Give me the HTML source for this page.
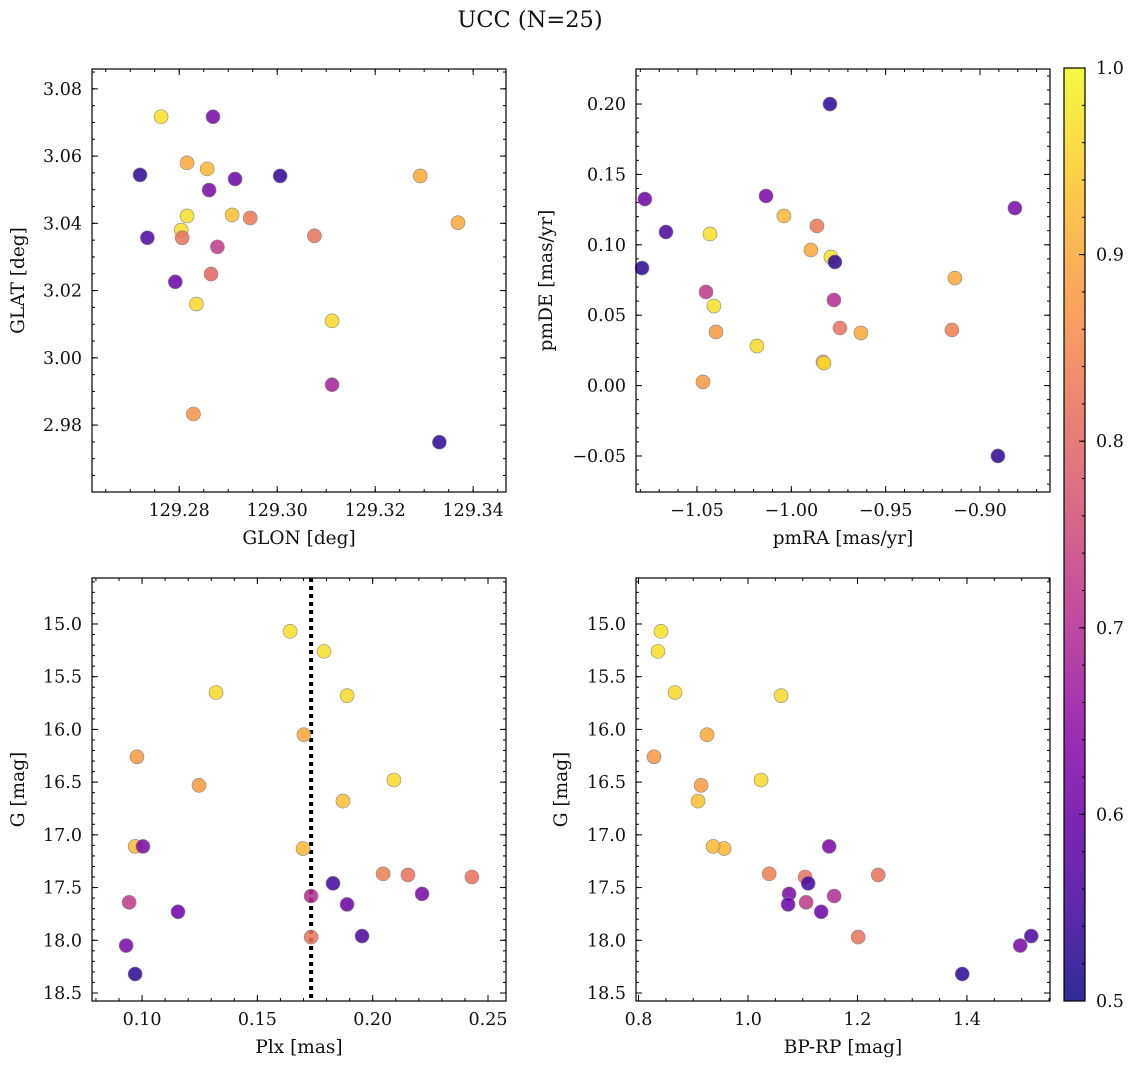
<!DOCTYPE html>
<html><head><meta charset="utf-8">
<style>
html,body{margin:0;padding:0;background:#fff;}
svg text{font-family:"DejaVu Serif","Liberation Serif",serif;fill:#111;}
</style></head>
<body>
<svg id="chart" width="1136" height="1068" xmlns="http://www.w3.org/2000/svg">
<text x="530" y="27" font-size="22.5" text-anchor="middle">UCC (N=25)</text>
</svg>
<script>
// ---- data ----
const glon=[129.2763,129.2869,129.2720,129.2816,129.2857,129.3006,129.2914,129.3292,129.2861,129.2816,129.2908,129.2945,129.2735,129.2804,129.2806,129.2878,129.3076,129.3369,129.2792,129.2865,129.2835,129.3112,129.3112,129.2829,129.3331];
const glat=[3.0717,3.0717,3.0544,3.0580,3.0562,3.0541,3.0532,3.0541,3.0499,3.0422,3.0425,3.0416,3.0357,3.0380,3.0357,3.0330,3.0363,3.0402,3.0226,3.0249,3.0160,3.0110,2.9920,2.9833,2.9749];
const probA=[0.97,0.62,0.53,0.90,0.92,0.53,0.60,0.90,0.62,0.97,0.93,0.83,0.56,0.97,0.82,0.72,0.82,0.90,0.60,0.80,0.96,0.96,0.68,0.87,0.53];

const pmra=[-0.9795,-1.0776,-1.0134,-0.8815,-1.0664,-1.0431,-1.0039,-0.9864,-0.9896,-0.9790,-0.9769,-1.0791,-0.9133,-1.0452,-0.9774,-1.0410,-0.9742,-0.9149,-1.0399,-0.9631,-1.0182,-0.9832,-0.9827,-1.0468,-0.8905];
const pmde=[0.200,0.1325,0.1347,0.1261,0.1091,0.1077,0.1205,0.1134,0.0963,0.0913,0.0878,0.0835,0.0764,0.0665,0.0608,0.0565,0.0409,0.0395,0.0381,0.0374,0.0281,0.0168,0.0160,0.0026,-0.050];
const probB=[0.53,0.60,0.62,0.62,0.56,0.97,0.92,0.83,0.90,0.97,0.53,0.53,0.90,0.72,0.70,0.97,0.82,0.84,0.88,0.90,0.96,0.90,0.96,0.88,0.53];

const plx=[0.1642,0.1789,0.1321,0.1889,0.1702,0.0978,0.2092,0.1247,0.1871,0.1698,0.0970,0.1004,0.2045,0.2153,0.2430,0.1828,0.2214,0.1733,0.0944,0.1889,0.1156,0.1733,0.1954,0.0931,0.0970];
const gmag=[15.07,15.26,15.65,15.68,16.05,16.26,16.48,16.53,16.68,17.13,17.11,17.11,17.37,17.38,17.40,17.46,17.56,17.58,17.64,17.66,17.73,17.97,17.96,18.05,18.32];
const bprp=[0.8411,0.8356,0.8667,1.0605,0.9252,0.8283,1.0239,0.9143,0.9088,0.9563,0.9362,1.1483,1.0386,1.2379,1.1044,1.1099,1.0751,1.1574,1.1062,1.0733,1.1337,1.2013,1.5174,1.4973,1.3914];
const probC=[0.97,0.97,0.96,0.96,0.90,0.88,0.96,0.88,0.93,0.92,0.92,0.62,0.84,0.82,0.82,0.55,0.62,0.70,0.72,0.60,0.60,0.82,0.56,0.62,0.53];
const plxLine=0.1733;

const ticksTLx=[129.28,129.30,129.32,129.34], ticksTLy=[2.98,3.00,3.02,3.04,3.06,3.08];
const ticksTRx=[-1.05,-1.00,-0.95,-0.90], ticksTRy=[-0.05,0.00,0.05,0.10,0.15,0.20];
const ticksBLx=[0.10,0.15,0.20,0.25], ticksGy=[15.0,15.5,16.0,16.5,17.0,17.5,18.0,18.5];
const ticksBRx=[0.8,1.0,1.2,1.4], ticksCb=[0.5,0.6,0.7,0.8,0.9,1.0];

const NS='http://www.w3.org/2000/svg';
const svg=document.getElementById('chart');
function mk(tag,attrs,parent){const e=document.createElementNS(NS,tag);for(const k in attrs)e.setAttribute(k,attrs[k]);(parent||svg).appendChild(e);return e;}
const stops=['#0d0887','#41049d','#6a00a8','#8f0da4','#b12a90','#cc4778','#e16462','#f2844b','#fca636','#fcce25','#f0f921'];
function hex(h){return [1,3,5].map(i=>parseInt(h.substr(i,2),16));}
function plasma(v){let t=Math.max(0,Math.min(1,(v-0.5)/0.5))*10;const i=Math.min(9,Math.floor(t)),f=t-i;const a=hex(stops[i]),b=hex(stops[i+1]);return 'rgb('+a.map((c,k)=>Math.round(c+(b[k]-c)*f)).join(',')+')';}
function fmt(v,d){const s=v.toFixed(d);return v<0?'\u2212'+s.slice(1):s;}

function panel(name,L,T,W,H,xmin,xmax,ymin,ymax,inv,xt,yt,xd,yd,xminor,yminor,xlab,ylab,yoff,xs,ys,ps,extra){
  const g=mk('g',{},svg);
  
  
  const X=v=>L+(v-xmin)/(xmax-xmin)*W;
  const Y=v=>inv?T+(v-ymin)/(ymax-ymin)*H:T+H-(v-ymin)/(ymax-ymin)*H;
  for(let k=Math.ceil(xmin/xminor-1e-6);k*xminor<=xmax+1e-9;k++){const x=X(k*xminor);mk('line',{x1:x,x2:x,y1:T+H,y2:T+H-3,stroke:'#000','stroke-width':1},g);mk('line',{x1:x,x2:x,y1:T,y2:T+3,stroke:'#000','stroke-width':1},g);}
  for(let k=Math.ceil(ymin/yminor-1e-6);k*yminor<=ymax+1e-9;k++){const y=Y(k*yminor);mk('line',{x1:L,x2:L+3,y1:y,y2:y,stroke:'#000','stroke-width':1},g);mk('line',{x1:L+W,x2:L+W-3,y1:y,y2:y,stroke:'#000','stroke-width':1},g);}
  xt.forEach(v=>{const x=X(v);mk('line',{x1:x,x2:x,y1:T+H,y2:T+H-6,stroke:'#000','stroke-width':1},g);mk('line',{x1:x,x2:x,y1:T,y2:T+6,stroke:'#000','stroke-width':1},g);
    const t=mk('text',{x:x,y:T+H+24,'font-size':17.5,'text-anchor':'middle'},g);t.textContent=fmt(v,xd);
    
    });
  yt.forEach(v=>{const y=Y(v);mk('line',{x1:L,x2:L+6,y1:y,y2:y,stroke:'#000','stroke-width':1},g);mk('line',{x1:L+W,x2:L+W-6,y1:y,y2:y,stroke:'#000','stroke-width':1},g);
    const t=mk('text',{x:L-10,y:y+6,'font-size':17.5,'text-anchor':'end'},g);t.textContent=fmt(v,yd);
    
    });
  if(extra) extra(g,X,Y);
  xs.forEach((v,i)=>{const c=mk('circle',{cx:X(v),cy:Y(ys[i]),r:7,fill:plasma(ps[i]),'fill-opacity':0.85,stroke:'#888','stroke-width':0.6},g);
    
    });
  mk('rect',{x:L,y:T,width:W,height:H,fill:'none',stroke:'#000','stroke-width':1.2},g);
  const xl=mk('text',{x:L+W/2,y:T+H+52,'font-size':18.5,'text-anchor':'middle'},g);xl.textContent=xlab;
  
  
  const yl=mk('text',{x:0,y:0,'font-size':18.5,'text-anchor':'middle',transform:'translate('+(L-yoff)+','+(T+H/2)+') rotate(-90)'},g);yl.textContent=ylab;
  
  
}
panel('glon-glat-panel',92,69,414,423,129.2622,129.3467,2.9601,3.0859,false,ticksTLx,ticksTLy,2,2,0.005,0.005,'GLON [deg]','GLAT [deg]',68,glon,glat,probA);
panel('pm-panel',636,69,414,423,-1.0823,-0.8629,-0.0756,0.2249,false,ticksTRx,ticksTRy,2,2,0.01,0.01,'pmRA [mas/yr]','pmDE [mas/yr]',84,pmra,pmde,probB);
panel('plx-g-panel',92,578,414,423,0.0783,0.2578,14.564,18.576,true,ticksBLx,ticksGy,2,1,0.01,0.1,'Plx [mas]','G [mag]',68,plx,gmag,probC,(g,X,Y)=>{
  const l=mk('line',{x1:X(plxLine),x2:X(plxLine),y1:578,y2:1001,stroke:'#000','stroke-width':4,'stroke-dasharray':'4,4'},g);
  
  });
panel('cmd-panel',636,578,414,423,0.7954,1.5517,14.564,18.576,true,ticksBRx,ticksGy,1,1,0.05,0.1,'BP-RP [mag]','G [mag]',69,bprp,gmag,probC);

const cb=mk('g',{},svg);


const defs=mk('defs',{},svg);
const lg=mk('linearGradient',{id:'pl',x1:0,y1:1,x2:0,y2:0},defs);
stops.forEach((s,i)=>mk('stop',{offset:i/10,'stop-color':s},lg));
const cT=68,cB=1001,cL=1064,cW=21;
mk('rect',{x:cL,y:cT,width:cW,height:cB-cT,fill:'url(#pl)','fill-opacity':0.85},cb);
const CY=v=>cB-(v-0.5)/0.5*(cB-cT);
for(let k=25;k<=50;k++){const v=k*0.02;mk('line',{x1:cL+cW,x2:cL+cW-3,y1:CY(v),y2:CY(v),stroke:'#000','stroke-width':1},cb);}
ticksCb.forEach(v=>{mk('line',{x1:cL+cW,x2:cL+cW-6,y1:CY(v),y2:CY(v),stroke:'#000','stroke-width':1},cb);
  const t=mk('text',{x:cL+cW+11,y:CY(v)+6,'font-size':17.5},cb);t.textContent=v.toFixed(1);
  
  });
mk('rect',{x:cL,y:cT,width:cW,height:cB-cT,fill:'none',stroke:'#000','stroke-width':1.2},cb);
</script>
</body></html>
